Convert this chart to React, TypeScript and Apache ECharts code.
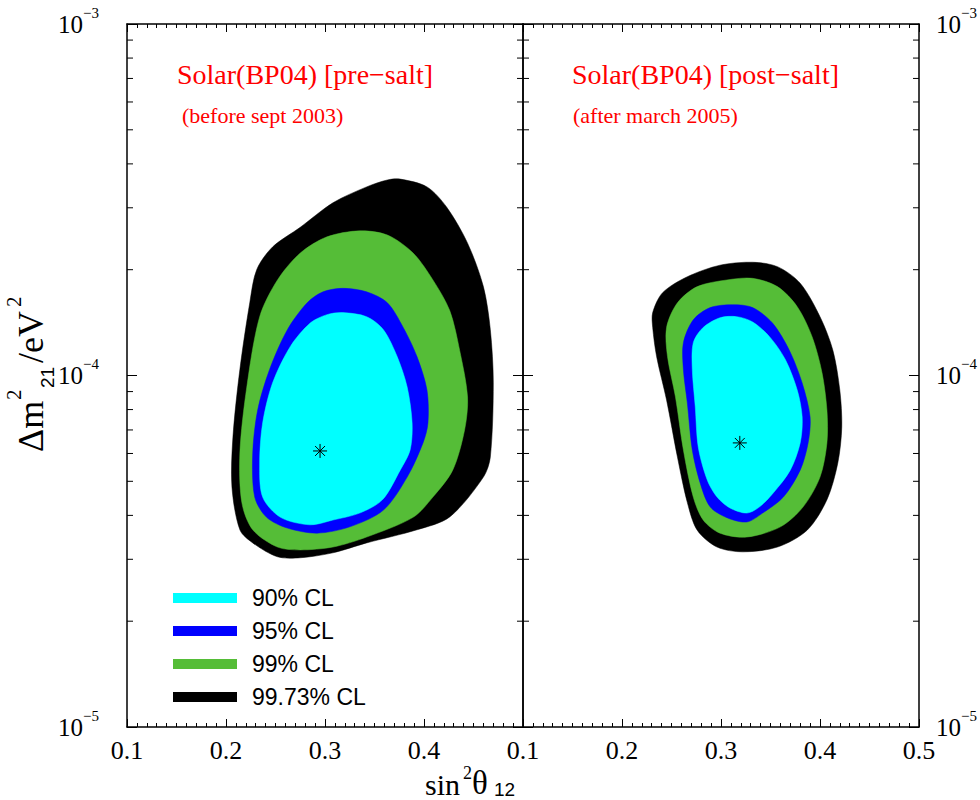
import React, { useEffect, useRef } from 'react';
import * as echarts from 'echarts';

// ---------- data ----------
const X_MIN = 0.1;
const X_MAX = 0.5;
const Y_MIN = 1e-5;
const Y_MAX = 1e-3;
const Y_MINOR_TICKS = [2e-5, 3e-5, 4e-5, 5e-5, 6e-5, 7e-5, 8e-5, 9e-5, 2e-4, 3e-4, 4e-4, 5e-4, 6e-4, 7e-4, 8e-4, 9e-4];
const LEGEND_NAMES = ['90% CL', '95% CL', '99% CL', '99.73% CL'];

// pre-salt (left panel): [sin^2 theta12, dm^2_21]
const preSalt9973: [number, number][] = [
  [0.376, 3.62e-4], [0.403, 3.44e-4], [0.423, 3.01e-4], [0.444, 2.38e-4], [0.460, 1.79e-4],
  [0.467, 1.35e-4], [0.470, 9.53e-5], [0.467, 5.86e-5], [0.460, 5.14e-5], [0.426, 3.96e-5],
  [0.393, 3.64e-5], [0.342, 3.34e-5], [0.308, 3.13e-5], [0.275, 3.03e-5], [0.252, 3.05e-5],
  [0.227, 3.34e-5], [0.214, 3.64e-5], [0.206, 4.82e-5], [0.207, 6.68e-5], [0.214, 1.04e-4],
  [0.224, 1.61e-4], [0.231, 2.0e-4], [0.247, 2.32e-4], [0.275, 2.64e-4], [0.308, 3.10e-4],
  [0.342, 3.44e-4], [0.363, 3.60e-4],
];
const preSalt99: [number, number][] = [
  [0.335, 2.58e-4], [0.363, 2.51e-4], [0.389, 2.23e-4], [0.409, 1.87e-4], [0.426, 1.53e-4],
  [0.436, 1.18e-4], [0.444, 8.69e-5], [0.441, 7.0e-5], [0.429, 5.38e-5], [0.409, 4.51e-5],
  [0.389, 3.95e-5], [0.342, 3.47e-5], [0.308, 3.25e-5], [0.275, 3.19e-5], [0.252, 3.25e-5],
  [0.227, 3.64e-5], [0.216, 4.35e-5], [0.214, 6.02e-5], [0.221, 9.27e-5], [0.234, 1.47e-4],
  [0.252, 1.87e-4], [0.275, 2.23e-4], [0.302, 2.48e-4],
];
const preSalt95: [number, number][] = [
  [0.318, 1.77e-4], [0.342, 1.73e-4], [0.363, 1.61e-4], [0.379, 1.37e-4], [0.393, 1.13e-4],
  [0.403, 9.09e-5], [0.404, 7.33e-5], [0.399, 6.43e-5], [0.383, 5.14e-5], [0.359, 4.14e-5],
  [0.325, 3.71e-5], [0.292, 3.56e-5], [0.262, 3.68e-5], [0.241, 3.95e-5], [0.229, 4.51e-5],
  [0.227, 6.02e-5], [0.232, 7.98e-5], [0.244, 1.04e-4], [0.262, 1.35e-4], [0.282, 1.61e-4],
  [0.298, 1.73e-4],
];
const preSalt90: [number, number][] = [
  [0.318, 1.51e-4], [0.342, 1.47e-4], [0.359, 1.35e-4], [0.373, 1.13e-4], [0.383, 9.27e-5],
  [0.388, 7.33e-5], [0.386, 6.14e-5], [0.376, 5.38e-5], [0.358, 4.43e-5], [0.335, 4.06e-5],
  [0.308, 3.88e-5], [0.285, 3.76e-5], [0.255, 3.95e-5], [0.237, 4.51e-5], [0.234, 5.64e-5],
  [0.237, 7.33e-5], [0.247, 9.52e-5], [0.265, 1.21e-4], [0.285, 1.41e-4], [0.302, 1.49e-4],
];
const preSaltBestFit: [number, number][] = [[0.295, 6.1e-5]];

// post-salt (right panel)
const postSalt9973: [number, number][] = [
  [0.231, 1.51e-4], [0.241, 1.72e-4], [0.266, 1.91e-4], [0.299, 2.06e-4], [0.332, 2.10e-4],
  [0.357, 2.04e-4], [0.380, 1.83e-4], [0.400, 1.47e-4], [0.413, 1.18e-4], [0.420, 9.09e-5],
  [0.422, 7.14e-5], [0.418, 5.64e-5], [0.407, 4.43e-5], [0.387, 3.63e-5], [0.357, 3.25e-5],
  [0.322, 3.15e-5], [0.296, 3.25e-5], [0.276, 3.63e-5], [0.266, 4.35e-5], [0.256, 5.86e-5],
  [0.245, 8.52e-5], [0.235, 1.13e-4], [0.231, 1.37e-4],
];
const postSalt99: [number, number][] = [
  [0.245, 1.37e-4], [0.256, 1.61e-4], [0.276, 1.79e-4], [0.306, 1.87e-4], [0.332, 1.89e-4],
  [0.357, 1.79e-4], [0.377, 1.57e-4], [0.392, 1.29e-4], [0.402, 1.02e-4], [0.407, 7.98e-5],
  [0.407, 6.43e-5], [0.400, 5.14e-5], [0.383, 4.23e-5], [0.360, 3.71e-5], [0.326, 3.47e-5],
  [0.299, 3.56e-5], [0.282, 3.88e-5], [0.272, 4.51e-5], [0.262, 6.14e-5], [0.254, 8.69e-5],
  [0.246, 1.13e-4],
];
const postSalt95: [number, number][] = [
  [0.262, 1.24e-4], [0.272, 1.44e-4], [0.289, 1.56e-4], [0.312, 1.59e-4], [0.332, 1.56e-4],
  [0.352, 1.41e-4], [0.369, 1.18e-4], [0.382, 9.52e-5], [0.390, 7.62e-5], [0.388, 6.43e-5],
  [0.380, 5.38e-5], [0.363, 4.51e-5], [0.342, 4.06e-5], [0.326, 3.83e-5], [0.306, 3.94e-5],
  [0.289, 4.23e-5], [0.279, 4.94e-5], [0.271, 6.14e-5], [0.266, 8.35e-5], [0.262, 1.04e-4],
];
const postSalt90: [number, number][] = [
  [0.272, 1.24e-4], [0.282, 1.37e-4], [0.299, 1.46e-4], [0.316, 1.47e-4], [0.332, 1.42e-4],
  [0.349, 1.29e-4], [0.365, 1.11e-4], [0.377, 9.09e-5], [0.382, 7.62e-5], [0.380, 6.43e-5],
  [0.370, 5.38e-5], [0.353, 4.64e-5], [0.339, 4.23e-5], [0.326, 4.06e-5], [0.309, 4.20e-5],
  [0.296, 4.51e-5], [0.286, 5.05e-5], [0.277, 6.26e-5], [0.274, 8.14e-5], [0.271, 1.04e-4],
];
const postSaltBestFit: [number, number][] = [[0.319, 6.43e-5]];

const PANEL_TITLES = ['Solar(BP04) [pre\u2212salt]', 'Solar(BP04) [post\u2212salt]'];
const PANEL_SUBTITLES = ['(before sept 2003)', '(after march 2005)'];

// ---------- styles ----------
const COLOR_90 = '#00ffff';
const COLOR_95 = '#0000ff';
const COLOR_99 = '#55bd37';
const COLOR_9973 = '#000000';
const SERIF = 'Liberation Serif';
const SANS = 'Liberation Sans';

function regionSeries(name: string, color: string, pts: [number, number][], g: number) {
  return {
    type: 'custom',
    name,
    coordinateSystem: 'cartesian2d',
    xAxisIndex: g * 2,
    yAxisIndex: g * 2,
    data: [pts[0]],
    itemStyle: { color },
    silent: true,
    renderItem: (_p: any, api: any) => ({
      type: 'polygon',
      shape: { points: pts.map((p) => api.coord(p)), smooth: 0.3 },
      style: { fill: color, stroke: color, lineWidth: 0.5 },
    }),
  };
}

function starSeries(pts: [number, number][], g: number) {
  return {
    type: 'custom',
    name: 'best fit',
    coordinateSystem: 'cartesian2d',
    xAxisIndex: g * 2,
    yAxisIndex: g * 2,
    data: pts,
    silent: true,
    z: 5,
    renderItem: (_p: any, api: any) => {
      const c = api.coord([api.value(0), api.value(1)]);
      const r = 7;
      const children: any[] = [];
      [0, 45, 90, 135].forEach((deg) => {
        const a = (deg * Math.PI) / 180;
        children.push({
          type: 'line',
          shape: { x1: c[0] - r * Math.cos(a), y1: c[1] - r * Math.sin(a), x2: c[0] + r * Math.cos(a), y2: c[1] + r * Math.sin(a) },
          style: { stroke: '#000', lineWidth: 1 },
        });
      });
      return { type: 'group', children };
    },
  };
}

function minorTickSeries(g: number) {
  return {
    type: 'custom',
    name: 'minor ticks',
    coordinateSystem: 'cartesian2d',
    xAxisIndex: g * 2,
    yAxisIndex: g * 2,
    data: Y_MINOR_TICKS.map((v) => [X_MIN, v]),
    silent: true,
    renderItem: (_p: any, api: any) => {
      const v = api.value(1);
      const l = api.coord([X_MIN, v]);
      const r = api.coord([X_MAX, v]);
      return {
        type: 'group',
        children: [
          { type: 'line', shape: { x1: l[0], y1: l[1], x2: l[0] + 6, y2: l[1] }, style: { stroke: '#000', lineWidth: 1 } },
          { type: 'line', shape: { x1: r[0] - 6, y1: r[1], x2: r[0], y2: r[1] }, style: { stroke: '#000', lineWidth: 1 } },
        ],
      };
    },
  };
}

const axisLine = { show: true, lineStyle: { color: '#000', width: 1.5 } };

function xAxis(g: number, top: boolean) {
  return {
    type: 'value',
    gridIndex: g,
    position: top ? 'top' : 'bottom',
    min: X_MIN,
    max: X_MAX,
    interval: 0.1,
    axisLine,
    axisTick: { show: true, inside: true, length: 8, lineStyle: { color: '#000', width: 1 } },
    minorTick: { show: true, splitNumber: 10, length: 4, lineStyle: { color: '#000', width: 1 } },
    splitLine: { show: false },
    axisLabel: {
      show: !top,
      margin: 10,
      color: '#000',
      fontFamily: SERIF,
      fontSize: 26,
      formatter: (v: number) => (g === 0 && Math.abs(v - X_MAX) < 1e-9 ? '' : v.toFixed(1)),
    },
  };
}

const yRich = {
  b: { fontFamily: SERIF, fontSize: 25, lineHeight: 38, color: '#000' },
  s: { fontFamily: SERIF, fontSize: 15, lineHeight: 14, verticalAlign: 'top', color: '#000' },
};

function yAxis(g: number, right: boolean, labels: boolean, margin: number) {
  return {
    type: 'log',
    logBase: 10,
    gridIndex: g,
    position: right ? 'right' : 'left',
    min: Y_MIN,
    max: Y_MAX,
    axisLine,
    axisTick: { show: true, inside: true, length: 10, lineStyle: { color: '#000', width: 1 } },
    splitLine: { show: false },
    axisLabel: {
      show: labels,
      margin,
      formatter: (v: number) => {
        const e = Math.round(Math.log10(v));
        return `{b|10}{s|\u2212${-e}}`;
      },
      rich: yRich,
    },
  };
}

function txt(text: string, x: number, y: number, size: number, family: string, extra: any = {}) {
  return {
    type: 'text',
    x,
    y,
    silent: true,
    style: {
      text,
      fontSize: size,
      fontFamily: family,
      fill: '#000',
      align: 'left',
      verticalAlign: 'middle',
      textAlign: 'left',
      textVerticalAlign: 'middle',
      ...extra,
    },
  };
}

const redTitle = (size: number) => ({ color: '#ff0000', fontFamily: SERIF, fontSize: size, fontWeight: 'normal' });

export default function App() {
  const ref = useRef<HTMLDivElement>(null);
  useEffect(() => {
    if (!ref.current) return;
    const chart = echarts.init(ref.current, undefined, { renderer: 'svg' });
    const option: any = {
      animation: false,
      backgroundColor: '#fff',
      grid: [
        { left: 127, top: 24, width: 396, height: 703 },
        { left: 523, top: 24, width: 396, height: 703 },
      ],
      xAxis: [xAxis(0, false), xAxis(0, true), xAxis(1, false), xAxis(1, true)],
      yAxis: [yAxis(0, false, true, 28), yAxis(0, true, false, 8), yAxis(1, false, false, 8), yAxis(1, true, true, 17)],
      title: [
        { text: PANEL_TITLES[0], left: 177, top: 60, padding: 0, textStyle: redTitle(28) },
        { text: PANEL_SUBTITLES[0], left: 182, top: 104, padding: 0, textStyle: redTitle(22) },
        { text: PANEL_TITLES[1], left: 572, top: 60, padding: 0, textStyle: redTitle(28) },
        { text: PANEL_SUBTITLES[1], left: 573, top: 104, padding: 0, textStyle: redTitle(22) },
      ],
      legend: {
        data: LEGEND_NAMES.map((n) => ({ name: n, icon: 'rect' })),
        orient: 'vertical',
        left: 173,
        top: 586,
        padding: 0,
        itemWidth: 64,
        itemHeight: 10,
        itemGap: 9,
        selectedMode: false,
        textStyle: { fontFamily: SANS, fontSize: 23, color: '#000', lineHeight: 24, padding: [0, 0, 0, 10] },
      },
      graphic: [
        // x-axis title: sin^2 theta_12
        txt('sin', 425, 784, 30, SERIF),
        txt('2', 463, 773, 18, SERIF),
        txt('\u03b8', 472, 783, 33, SERIF),
        txt('12', 494, 789, 19, SANS),
        // y-axis title: Delta m^2_21 / eV^2 (rotated)
        {
          type: 'group',
          x: 43,
          y: 452,
          rotation: Math.PI / 2,
          children: [
            txt('\u0394m', 0, -12, 36, SERIF),
            txt('2', 52, -29, 21, SERIF),
            txt('21', 64, 4, 19, SANS),
            txt('/eV', 89, -12, 36, SERIF),
            txt('2', 145, -29, 21, SERIF),
          ],
        },
      ],
      series: [
        regionSeries('99.73% CL', COLOR_9973, preSalt9973, 0),
        regionSeries('99% CL', COLOR_99, preSalt99, 0),
        regionSeries('95% CL', COLOR_95, preSalt95, 0),
        regionSeries('90% CL', COLOR_90, preSalt90, 0),
        starSeries(preSaltBestFit, 0),
        minorTickSeries(0),
        regionSeries('99.73% CL', COLOR_9973, postSalt9973, 1),
        regionSeries('99% CL', COLOR_99, postSalt99, 1),
        regionSeries('95% CL', COLOR_95, postSalt95, 1),
        regionSeries('90% CL', COLOR_90, postSalt90, 1),
        starSeries(postSaltBestFit, 1),
        minorTickSeries(1),
      ],
    };
    chart.setOption(option);
    return () => chart.dispose();
  }, []);
  return (
    <div style={{ position: 'absolute', left: 0, top: 0, width: 980, height: 800, background: '#fff' }}>
      <div ref={ref} style={{ width: 980, height: 800 }} />
    </div>
  );
}
